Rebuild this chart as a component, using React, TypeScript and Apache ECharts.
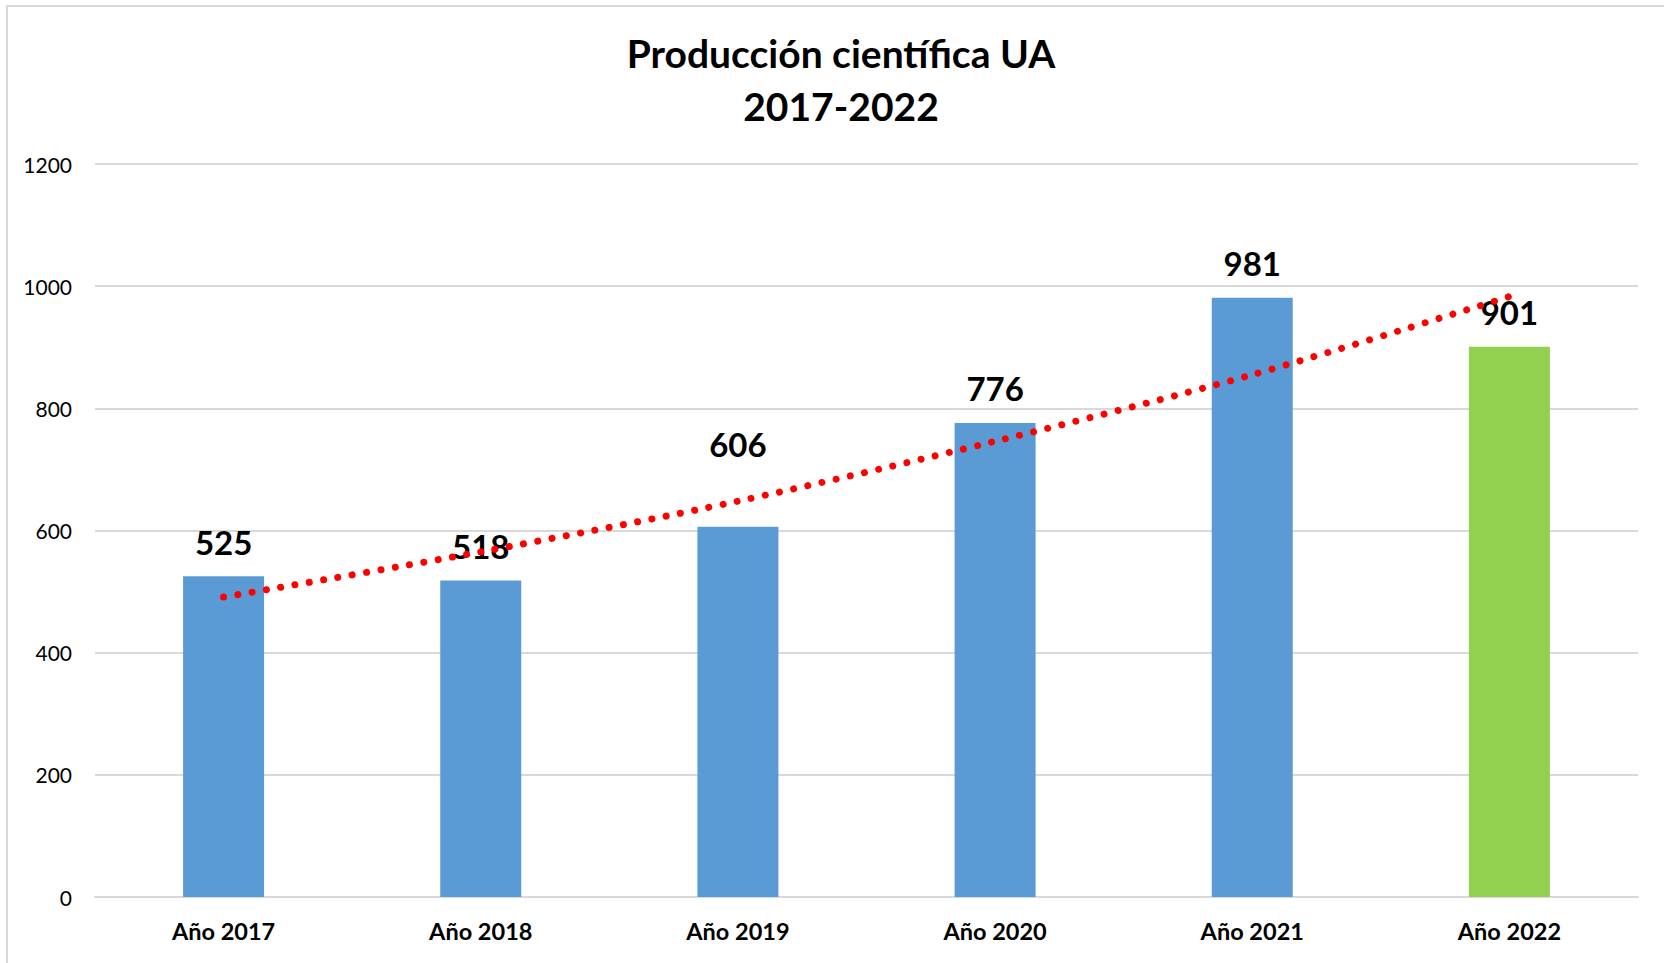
import React, { useEffect, useRef } from "react";
import * as echarts from "echarts";

const categories = ["Año 2017", "Año 2018", "Año 2019", "Año 2020", "Año 2021", "Año 2022"];
const produccion = [525, 518, 606, 776, 981, 901];
const tendencia = [491, 565, 648, 746, 855, 983];
const yMin = 0;
const yMax = 1200;
const yInterval = 200;
const titleLines = ["Producción científica UA", "2017-2022"];
const highlighted = "Año 2022";

const BLUE = "#5B9BD5";
const GREEN = "#92D050";
const GRID = "#D9D9D9";
const FONT = "Lato";
const LABEL_DISTANCE = 18;
// etiqueta de 2019 desplazada hacia arriba en el original
const LABEL_EXTRA: Record<string, number> = { "Año 2019": 48 };

export default function App() {
  const ref = useRef<HTMLDivElement>(null);

  useEffect(() => {
    document.body.style.margin = "0";
    if (!ref.current) return;
    const chart = echarts.init(ref.current, null, { renderer: "svg" });
    chart.setOption({
      animation: false,
      backgroundColor: "#ffffff",
      title: {
        text: titleLines.join("\n"),
        left: 836,
        top: 21,
        textAlign: "center",
        textStyle: {
          fontFamily: FONT,
          fontWeight: "bold",
          fontSize: 39,
          lineHeight: 53,
          color: "#000",
        },
      },
      graphic: [
        {
          type: "rect",
          shape: { x: 7, y: 6, width: 3000, height: 3000 },
          style: { fill: "none", stroke: GRID, lineWidth: 2 },
          silent: true,
          z: 0,
        },
      ],
      grid: { left: 95, right: 26, top: 164, bottom: 66, containLabel: false },
      xAxis: {
        type: "category",
        data: categories,
        axisTick: { show: false },
        axisLine: { show: true, lineStyle: { color: GRID, width: 2 } },
        axisLabel: {
          fontFamily: FONT,
          fontWeight: "bold",
          fontSize: 23.5,
          color: "#000",
          margin: 22,
        },
      },
      yAxis: {
        type: "value",
        min: yMin,
        max: yMax,
        interval: yInterval,
        axisLine: { show: false },
        axisTick: { show: false },
        splitLine: { lineStyle: { color: GRID, width: 2 } },
        axisLabel: {
          fontFamily: FONT,
          fontSize: 21,
          color: "#000",
          margin: 23,
          formatter: (v: number) => String(v),
        },
      },
      series: [
        {
          type: "bar",
          z: 2,
          barWidth: 81,
          data: produccion.map((v, i) => ({
            value: v,
            itemStyle: { color: categories[i] === highlighted ? GREEN : BLUE },
            label: { distance: LABEL_DISTANCE + (LABEL_EXTRA[categories[i]] || 0) },
          })),
          label: {
            show: true,
            position: "top",
            distance: LABEL_DISTANCE,
            fontFamily: FONT,
            fontWeight: "bold",
            fontSize: 33,
            color: "#000",
          },
        },
        {
          type: "line",
          z: 5,
          data: tendencia,
          smooth: 0.3,
          symbol: "none",
          silent: true,
          lineStyle: {
            color: "#FF0000",
            width: 7,
            type: [0.01, 14.5],
            cap: "round",
          },
        },
      ],
    });
    return () => chart.dispose();
  }, []);

  return <div ref={ref} style={{ width: 1664, height: 963 }} />;
}
